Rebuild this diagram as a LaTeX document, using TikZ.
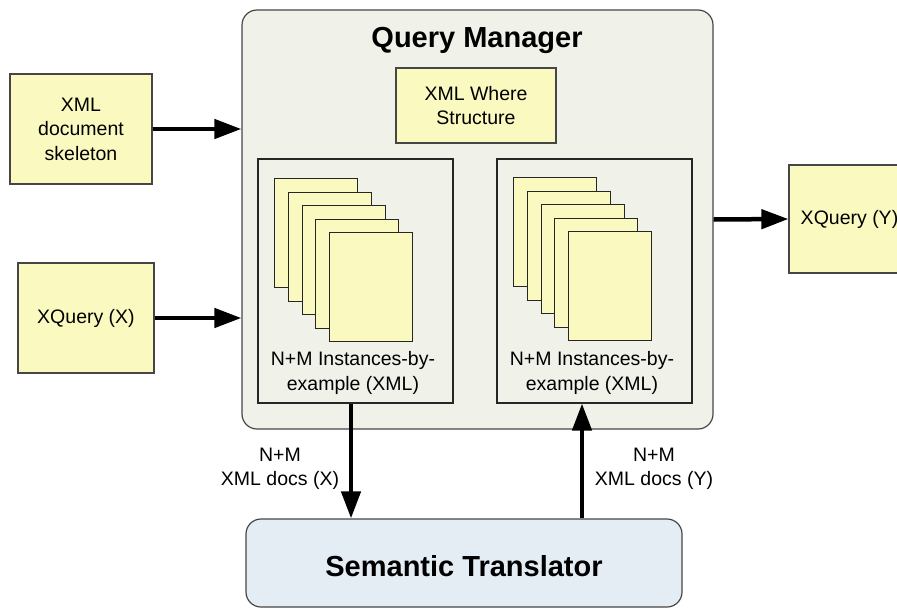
\documentclass[tikz,border=0pt]{standalone}
\usepackage{fontspec}
\setmainfont{Liberation Sans}
\usetikzlibrary{arrows.meta}
\definecolor{noteyellow}{RGB}{250,250,192}
\definecolor{mgrfill}{RGB}{240,242,234}
\definecolor{trfill}{RGB}{228,236,244}
\definecolor{edge}{RGB}{70,70,70}
\tikzset{
  txt/.style={font=\fontsize{19.5}{24.5}\selectfont, align=center, inner sep=0pt},
  bigtxt/.style={font=\fontsize{29}{34}\selectfont\bfseries, inner sep=0pt},
  notebox/.style={draw=edge, line width=1.2pt, fill=noteyellow, inner sep=0pt,
                  font=\fontsize{19.5}{24.5}\selectfont, align=center},
  page/.style={draw=black!85, line width=1.1pt, fill=noteyellow, inner sep=0pt,
               minimum width=83pt, minimum height=109pt, anchor=north west},
  frame/.style={draw=black!85, line width=1.1pt, inner sep=0pt},
  flow/.style={line width=4.5pt, -{Triangle[length=27pt,width=19pt]}},
}
\begin{document}
\begin{tikzpicture}[x=1pt,y=-1pt]
\useasboundingbox (0,0) rectangle (897,608);

% Query Manager container
\node[draw=edge, line width=1.2pt, fill=mgrfill, rounded corners=15pt,
      minimum width=471pt, minimum height=419pt, inner sep=0pt] (qm) at (477.5,219.5) {};
\node[bigtxt, anchor=base] (qmtitle) at (477,47) {Query Manager};

% XML Where Structure
\node[notebox, minimum width=160pt, minimum height=75pt] (where) at (476,105.5)
  {XML Where\\Structure};

% instance frames
\node[frame, minimum width=195pt, minimum height=244pt] (inL) at (355.5,281) {};
\node[frame, minimum width=195pt, minimum height=244pt] (inR) at (594.5,281) {};

% stacked pages
\foreach \i in {0,...,4} {
  \node[page] (pl\i) at (274+13.75*\i,178+13.5*\i) {};
  \node[page] (pr\i) at (513+13.75*\i,177+13.5*\i) {};
}

\node[txt, anchor=base] (labL1) at (353,365) {N+M Instances-by-};
\node[txt, anchor=base] (labL2) at (353,390) {example (XML)};
\node[txt, anchor=base] (labR1) at (592,365) {N+M Instances-by-};
\node[txt, anchor=base] (labR2) at (592,390) {example (XML)};

% inputs and output
\node[notebox, minimum width=142pt, minimum height=110pt] (skel) at (81,129)
  {XML\\document\\skeleton};
\node[notebox, minimum width=136pt, minimum height=110pt] (xqx) at (86,318)
  {XQuery (X)};
\node[notebox, minimum width=121pt, minimum height=108pt] (xqy) at (849.5,219)
  {XQuery (Y)};

% Semantic Translator
\node[draw=edge, line width=1.2pt, fill=trfill, rounded corners=15pt,
      minimum width=436pt, minimum height=88pt, inner sep=0pt] (st) at (464,563) {};
\node[bigtxt] (sttitle) at (464,566) {Semantic Translator};

% connectors
\draw[flow] (skel.east) -- (skel.east -| qm.west);
\draw[flow] (xqx.east) -- (xqx.east -| qm.west);
\draw[flow] (qm.east) -- (xqy.west);

\coordinate (dnx) at (351,0);
\coordinate (upx) at (582,0);
\draw[flow] (inL.south -| dnx) -- (st.north -| dnx);
\draw[flow] (st.north -| upx) -- (inR.south -| upx);

\node[txt] (docsX) at (280,469) {N+M\\XML docs (X)};
\node[txt] (docsY) at (654,469) {N+M\\XML docs (Y)};
\end{tikzpicture}
\end{document}
